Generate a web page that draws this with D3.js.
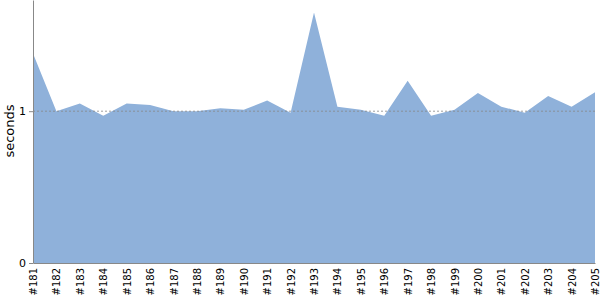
<!DOCTYPE html>
<html>
<head>
<meta charset="utf-8">
<script src="https://cdn.jsdelivr.net/npm/d3@7"></script>
<style>
  body { margin: 0; background: #fff; }
  text { font-family: "DejaVu Sans", sans-serif; }
</style>
</head>
<body>
<div id="chart"></div>
<script>
// Data
const builds = ["#181","#182","#183","#184","#185","#186","#187","#188","#189","#190",
  "#191","#192","#193","#194","#195","#196","#197","#198","#199","#200",
  "#201","#202","#203","#204","#205"];
const seconds = [1.38, 1.0, 1.05, 0.97, 1.05, 1.04, 1.0, 1.0, 1.02, 1.01,
  1.07, 0.99, 1.65, 1.03, 1.01, 0.97, 1.2, 0.97, 1.01, 1.12,
  1.03, 0.99, 1.1, 1.03, 1.125];
const yTicks = [0, 1];

const margin = { top: 0, right: 5, bottom: 37, left: 33 };
const width = 600 - margin.left - margin.right;
const height = 300 - margin.top - margin.bottom;

const svg = d3.select("#chart")
  .append("svg")
    .attr("width", 600)
    .attr("height", 300)
  .append("g")
    .attr("transform", "translate(" + margin.left + "," + margin.top + ")");

let x = d3.scalePoint().domain(builds).range([0, width]);
let y = d3.scaleLinear().domain([0, d3.max(seconds) * 1.05]).range([height, 0]);

// Area
let area = d3.area()
  .x((d, i) => x(builds[i]))
  .y0(height)
  .y1(d => y(d));

svg.append("path")
  .datum(seconds)
  .attr("fill", "#8fb1da")
  .attr("d", area);

// Reference line at 1
svg.append("line")
  .attr("x1", 0).attr("x2", width)
  .attr("y1", y(1)).attr("y2", y(1))
  .attr("stroke", "#888")
  .attr("stroke-width", 0.8)
  .attr("stroke-dasharray", "2,2");

// X axis
const xAxis = svg.append("g")
  .attr("transform", "translate(0," + height + ")")
  .call(d3.axisBottom(x).tickSize(0).tickPadding(5));
xAxis.select(".domain").attr("stroke", "#888");
xAxis.selectAll("text")
  .attr("transform", "rotate(-90)")
  .attr("text-anchor", "end")
  .attr("x", -5)
  .attr("y", 0)
  .attr("dy", "0.35em")
  .style("font-size", "10px")
  .attr("fill", "#000");

// Y axis
const yAxis = svg.append("g")
  .call(d3.axisLeft(y).tickValues(yTicks).tickFormat(d3.format("d")).tickSize(4).tickSizeOuter(0).tickPadding(3));
yAxis.select(".domain").attr("stroke", "#888");
yAxis.selectAll(".tick line").attr("stroke", "#888");
yAxis.selectAll("text").style("font-size", "11px").attr("fill", "#000");

// Y label
svg.append("text")
  .attr("transform", "rotate(-90)")
  .attr("x", -131)
  .attr("y", -19)
  .style("text-anchor", "middle")
  .style("font-size", "13px")
  .text("seconds");
</script>
</body>
</html>
